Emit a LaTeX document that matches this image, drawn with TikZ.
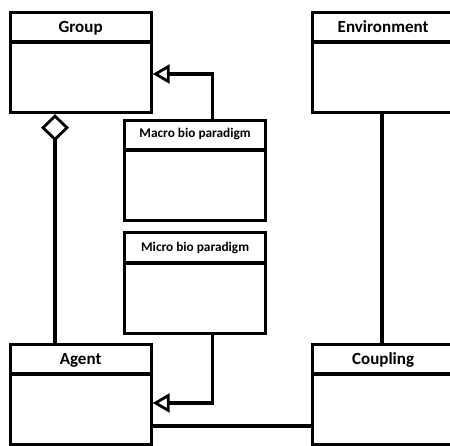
\documentclass[tikz,border=0pt]{standalone}
\usepackage{fontspec}
\setmainfont{Carlito}
\usetikzlibrary{arrows.meta,calc}
\tikzset{
  classbox/.style={draw, line width=3.2pt, minimum width=141pt, minimum height=100pt,
                   anchor=north west, inner sep=0pt},
  classname/.style={font=\bfseries\fontsize{17}{19}\selectfont, inner sep=0pt, anchor=base},
  smallname/.style={font=\bfseries\fontsize{13.3}{15}\selectfont, inner sep=0pt, anchor=base},
  link/.style={line width=3.2pt},
  inherit/.style={link, -{Triangle[open, length=17pt, width=19pt, line width=2.8pt]}},
  aggregate/.style={link, {Diamond[open, length=27pt, width=28pt, line width=2.8pt]}-},
}
\begin{document}
\begin{tikzpicture}[x=1pt,y=-1pt]
\useasboundingbox (0,0) rectangle (450,446);
\clip (0,0) rectangle (450,446);

% class boxes
\node[classbox] (group) at (8.5,11) {};
\node[classbox] (env) at (311,11) {};
\node[classbox] (macro) at (123,119) {};
\node[classbox, minimum height=101pt] (micro) at (123,231) {};
\node[classbox] (agent) at (8.5,343) {};
\node[classbox] (coupling) at (311,343) {};

% header dividers
\draw[link] ([yshift=-31pt]group.north west) -- ([yshift=-31pt]group.north east);
\draw[link] ([yshift=-31pt]env.north west) -- ([yshift=-31pt]env.north east);
\draw[link] ([yshift=-31pt]macro.north west) -- ([yshift=-31pt]macro.north east);
\draw[link] ([yshift=-32pt]micro.north west) -- ([yshift=-32pt]micro.north east);
\draw[link] ([yshift=-31pt]agent.north west) -- ([yshift=-31pt]agent.north east);
\draw[link] ([yshift=-31pt]coupling.north west) -- ([yshift=-31pt]coupling.north east);

% class names (placed on their baselines)
\node[classname] (grouptitle) at ($(group.north)+(0,22)$) {Group};
\node[classname] (envtitle) at ($(env.north)+(0,22)$) {Environment};
\node[smallname] (macrotitle) at ($(macro.north)+(0,19)$) {Macro bio paradigm};
\node[smallname] (microtitle) at ($(micro.north)+(0,20.5)$) {Micro bio paradigm};
\node[classname] (agenttitle) at ($(agent.north)+(0,22)$) {Agent};
\node[classname] (couplingtitle) at ($(coupling.north)+(0,22)$) {Coupling};

% relations
\draw[inherit] ([xshift=17pt]macro.north) |- ([yshift=-63pt]group.north east);
\draw[inherit] ([xshift=17pt]micro.south) |- ([yshift=-60pt]agent.north east);
\draw[aggregate] ([xshift=46.5pt]group.south west) -- ([xshift=46.5pt]agent.north west);
\draw[link] ([xshift=71pt]env.south west) -- ([xshift=71pt]coupling.north west);
\draw[link] ([yshift=-83pt]agent.north east) -- ([yshift=-83pt]coupling.north west);
\end{tikzpicture}
\end{document}
